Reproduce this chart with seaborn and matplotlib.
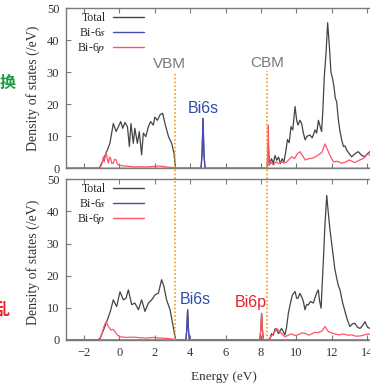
import matplotlib
matplotlib.use("Agg")
import matplotlib.pyplot as plt
import seaborn as sns
from matplotlib.lines import Line2D

# ---------------- data ----------------
X_TICKS = [-2, 0, 2, 4, 6, 8, 10, 12, 14]
Y_TICKS = [0, 10, 20, 30, 40, 50]
SERIES_LABELS = ["Total", "Bi-6$s$", "Bi-6$p$"]
VBM_E = 3.17
CBM_E = 8.35

# top panel - total DOS, valence band
TOP_VAL_E = [-3.0, -1.3, -1.13, -0.91, -0.71, -0.53, -0.34, -0.18, -0.05, 0.08,
             0.19, 0.32, 0.46, 0.57, 0.66, 0.79, 0.88, 1.02, 1.13, 1.26,
             1.36, 1.50, 1.64, 1.77, 1.92, 2.01, 2.15, 2.30, 2.45, 2.58,
             2.78, 2.96, 3.09, 3.18]
TOP_VAL_TOTAL = [0, 0, 0, 2.6, 5.2, 7.8, 14, 11.5, 13, 14.6,
                 12.5, 14.3, 13, 6.8, 14, 7.8, 12.5, 7.8, 11.5, 4.2,
                 11, 9.9, 13, 14.6, 13.5, 16, 15, 16.7, 17.2, 14,
                 9.9, 7.8, 4.7, 0]
# top panel - Bi-6s peak
TOP_S_E = [4.62, 4.68, 4.73, 4.78, 4.84]
TOP_S_V = [0, 5, 15.6, 5, 0]
# top panel - total DOS, conduction band
TOP_CON_E = [8.35, 8.42, 8.48, 8.6, 8.7, 8.8, 8.9, 9.0, 9.1, 9.2,
             9.3, 9.4, 9.5, 9.6, 9.7, 9.8, 9.93, 10.02, 10.1, 10.2,
             10.3, 10.4, 10.5, 10.6, 10.77, 10.9, 11.06, 11.15, 11.25, 11.35,
             11.43, 11.5, 11.58, 11.68, 11.77, 11.87, 11.96, 12.05, 12.13, 12.2,
             12.28, 12.38, 12.47, 12.56, 12.66, 12.75, 12.85, 13.0, 13.13, 13.3,
             13.5, 13.7, 13.88, 14.0, 14.16, 14.4, 14.7, 15.0]
TOP_CON_TOTAL = [0, 8, 1, 3, 1.5, 4, 2.5, 3.5, 1.5, 3,
                 2, 5, 9, 8, 13, 12, 19.3, 15, 13.5, 15,
                 14, 11, 8.9, 10, 10.4, 9.5, 12, 11, 15, 13,
                 11.5, 18, 28.6, 36, 45.5, 38, 30, 28, 25.5, 22,
                 20.8, 15, 11.5, 9, 6.8, 7, 5.7, 4.5, 3.6, 4.5,
                 5.2, 4, 3.6, 4.5, 5.2, 4, 4.5, 4]
# top panel - Bi-6p
TOP_RED_VAL_E = [-3.0, -1.2, -1.09, -0.95, -0.91, -0.85, -0.75, -0.68, -0.62, -0.55,
                 -0.49, -0.42, -0.34, -0.26, -0.18, -0.1, 0.0, 0.15, 0.32, 0.6,
                 0.9, 1.17, 1.5, 1.9, 2.3, 2.7, 3.05, 3.18]
TOP_RED_VAL = [0, 0, 0, 2, 3.6, 2, 5.2, 3, 1.6, 3.5,
               3.1, 1.5, 1.6, 2.8, 2.6, 1.2, 1, 0.8, 0.7, 0.6,
               0.4, 0.5, 0.4, 0.6, 0.7, 0.4, 0.2, 0]
TOP_RED_CON_E = [8.35, 8.40, 8.42, 8.45, 8.55, 8.7, 8.85, 9.0, 9.15, 9.35,
                 9.55, 9.74, 9.9, 10.05, 10.2, 10.35, 10.5, 10.7, 10.87, 11.05,
                 11.25, 11.45, 11.62, 11.81, 11.95, 12.1, 12.3, 12.56, 12.8, 13.0,
                 13.3, 13.55, 13.8, 14.07, 14.3, 14.6, 15.0]
TOP_RED_CON = [0, 6, 13.4, 1, 2, 1, 2, 1.5, 2, 1.6,
               2.5, 3.6, 3, 4.5, 5.2, 4, 2.6, 3, 3.1, 3.5,
               4.2, 5, 7.6, 5.2, 3.5, 2, 2.2, 1.6, 2, 2.6,
               1.8, 2.5, 3.1, 4.7, 3, 2.5, 2]

# bottom panel - total DOS, valence band
BOT_VAL_E = [-3.0, -1.25, -1.09, -0.9, -0.71, -0.5, -0.34, -0.15, 0.04, 0.23,
             0.38, 0.51, 0.70, 0.88, 1.08, 1.26, 1.45, 1.64, 1.83, 2.01,
             2.21, 2.39, 2.52, 2.67, 2.87, 3.05, 3.18]
BOT_VAL_TOTAL = [0, 0, 0.5, 3, 5.7, 9, 12.5, 10.4, 15, 12.5,
                 13, 15.6, 11, 11.5, 9.4, 12.5, 8.9, 11.5, 12.5, 14,
                 14.6, 18.75, 16.7, 12.5, 9.4, 4, 0]
# bottom panel - Bi-6s and Bi-6p gap states
BOT_S_E = [3.76, 3.81, 3.86, 3.91, 3.96]
BOT_S_V = [0, 3, 9.4, 3, 0]
BOT_P_E = [7.94, 7.99, 8.04, 8.09, 8.14]
BOT_P_V = [0, 3, 8.3, 3, 0]
# bottom panel - total DOS, conduction band
BOT_CON_E = [8.42, 8.51, 8.6, 8.7, 8.8, 8.89, 9.0, 9.1, 9.17, 9.27,
             9.36, 9.45, 9.55, 9.65, 9.78, 9.93, 10.02, 10.1, 10.2, 10.3,
             10.4, 10.49, 10.58, 10.68, 10.8, 10.96, 11.05, 11.15, 11.24, 11.32,
             11.4, 11.53, 11.62, 11.72, 11.8, 11.9, 12.0, 12.09, 12.18, 12.28,
             12.37, 12.47, 12.6, 12.75, 12.9, 13.03, 13.17, 13.31, 13.45, 13.6,
             13.75, 13.88, 14.02, 14.16, 14.4, 14.7, 15.0]
BOT_CON_TOTAL = [0, 0.5, 2, 1.5, 3.5, 3.1, 2, 3, 3.6, 2.5,
                 1.6, 4, 8.3, 11, 14, 15.1, 13, 13, 14.5, 13.5,
                 12, 9.4, 11, 10.9, 12, 11.5, 13, 14.6, 15.6, 12,
                 9.9, 25, 36, 45, 40, 34.4, 30, 26, 22, 19.3,
                 17, 15.6, 12, 8.9, 6, 4.2, 5, 5.2, 4, 3.6,
                 4.5, 5.7, 4, 3.6, 4.5, 4, 4]
# bottom panel - Bi-6p
BOT_RED_VAL_E = [-3.0, -1.2, -1.09, -0.95, -0.87, -0.75, -0.62, -0.47, -0.35, -0.24,
                 -0.1, 0.04, 0.42, 0.8, 1.17, 1.55, 1.92, 2.3, 2.67, 3.0,
                 3.15]
BOT_RED_VAL = [0, 0, 0.2, 2.5, 4.2, 5.7, 4.2, 3.1, 3.3, 2.6,
               1.5, 1, 0.8, 0.9, 0.7, 0.6, 0.8, 0.6, 0.5, 0.3,
               0]
BOT_RED_CON_E = [8.42, 8.56, 8.7, 8.89, 9.08, 9.2, 9.36, 9.55, 9.74, 9.9,
                 10.1, 10.3, 10.49, 10.7, 10.87, 11.05, 11.24, 11.45, 11.62, 11.81,
                 12.0, 12.18, 12.4, 12.66, 12.9, 13.13, 13.35, 13.6, 13.85, 14.07,
                 14.4, 15.0]
BOT_RED_CON = [0, 1, 2, 3.6, 2.6, 1.8, 1, 1.5, 1.9, 1.4,
               1.6, 2.2, 2.1, 1.5, 1.9, 2.4, 2.3, 2.8, 4.2, 2.6,
               2.2, 1.9, 1.6, 1.9, 1.5, 1.6, 1.2, 1.25, 1.6, 1.9,
               1.5, 1.5]

# ---------------- style ----------------
sns.set_style("ticks")
plt.rcParams["font.family"] = ["Liberation Serif", "DejaVu Serif"]
plt.rcParams["mathtext.fontset"] = "stix"
plt.rcParams["xtick.direction"] = "in"
plt.rcParams["ytick.direction"] = "in"

C_TOTAL = "#444444"
C_S = "#4a4ab4"
C_P = "#ff5468"
C_LINE = "#f39a1e"
C_FRAME = "#7a7a7a"

W, H = 370, 384
fig = plt.figure(figsize=(W / 100, H / 100), dpi=100)


def rect(left, top, right, bottom):
    return [left / W, 1 - bottom / H, (right - left) / W, (bottom - top) / H]


ax_top = fig.add_axes(rect(66.2, 8.3, 384.8, 168.3))
ax_bot = fig.add_axes(rect(66.2, 179.3, 384.8, 340.0))

panels = [
    (ax_top,
     TOP_VAL_E + TOP_S_E + TOP_CON_E, TOP_VAL_TOTAL + TOP_S_V + TOP_CON_TOTAL,
     [-3.0] + TOP_S_E + [15.0], [0] + TOP_S_V + [0],
     TOP_RED_VAL_E + TOP_RED_CON_E, TOP_RED_VAL + TOP_RED_CON),
    (ax_bot,
     BOT_VAL_E + BOT_S_E + BOT_P_E + BOT_CON_E,
     BOT_VAL_TOTAL + BOT_S_V + BOT_P_V + BOT_CON_TOTAL,
     [-3.0] + BOT_S_E + [15.0], [0] + BOT_S_V + [0],
     BOT_RED_VAL_E + BOT_P_E + BOT_RED_CON_E, BOT_RED_VAL + BOT_P_V + BOT_RED_CON),
]

for ax, te, tv, se, sv, pe, pv in panels:
    sns.lineplot(x=te, y=tv, ax=ax, color=C_TOTAL, lw=0.9, estimator=None, sort=False)
    sns.lineplot(x=se, y=sv, ax=ax, color=C_S, lw=0.9, estimator=None, sort=False)
    sns.lineplot(x=pe, y=pv, ax=ax, color=C_P, lw=0.9, estimator=None, sort=False)
    ax.set_xlim(-3, 15)
    ax.set_ylim(0, 50)
    ax.set_xticks(X_TICKS)
    ax.set_yticks(Y_TICKS)
    ax.tick_params(axis="both", which="both", direction="in", length=3.5, width=0.8,
                   color=C_FRAME, labelsize=9, labelcolor="#333333",
                   top=True, right=True)
    ax.tick_params(axis="y", pad=5)
    ax.tick_params(axis="x", pad=5)
    for sp in ax.spines.values():
        sp.set_color(C_FRAME)
        sp.set_linewidth(1.0)
    ax.set_xlabel("")
    ax.set_ylabel("")
    handles = [Line2D([0], [0], color=c, lw=1.0) for c in (C_TOTAL, C_S, C_P)]
    ax.legend(handles, SERIES_LABELS, loc="upper left", bbox_to_anchor=(0.035, 0.975),
              frameon=False, markerfirst=False, handlelength=2.6, handletextpad=0.6,
              labelspacing=0.2, borderpad=0, borderaxespad=0, fontsize=8.5)

ax_top.tick_params(axis="x", labelbottom=False)

# VBM / CBM guide lines
for e, top_frac in ((VBM_E, 0.604), (CBM_E, 0.61)):
    ax_top.axvline(e, ymin=-0.069, ymax=top_frac, color=C_LINE, lw=1.2,
                   ls=(0, (1, 1.3)), clip_on=False)
    ax_bot.axvline(e, ymin=0.0, ymax=1.0, color=C_LINE, lw=1.2,
                   ls=(0, (1, 1.3)), clip_on=False)

sans = ["Liberation Sans", "DejaVu Sans"]
ax_top.text(2.86, 31.3, "VBM", color="#7a7a7a", fontsize=11, family=sans,
            ha="center", va="baseline")
ax_top.text(8.34, 31.7, "CBM", color="#7a7a7a", fontsize=11, family=sans,
            ha="center", va="baseline")
ax_top.text(4.76, 17.3, "Bi6s", color="#2f4fa8", fontsize=11.5, family=sans,
            ha="center", va="baseline")
ax_bot.text(4.28, 11.2, "Bi6s", color="#2f4fa8", fontsize=11.5, family=sans,
            ha="center", va="baseline")
ax_bot.text(7.44, 10.3, "Bi6p", color="#e8202c", fontsize=11.5, family=sans,
            ha="center", va="baseline")

# axis titles
fig.text(33 / W, 1 - 88 / H, "Density of states (/eV)", rotation=90,
         ha="center", va="center", fontsize=10, color="#333333")
fig.text(33 / W, 1 - 262 / H, "Density of states (/eV)", rotation=90,
         ha="center", va="center", fontsize=10, color="#333333")
fig.text(224 / W, 1 - 377 / H, "Energy (eV)", ha="center", va="center",
         fontsize=9.5, color="#333333")

# side labels (partly outside the canvas, as in the reference)
cjk = ["Noto Sans CJK SC", "DejaVu Sans"]
fig.text(8 / W, 1 - 83 / H, "换", color="#1a9a40", fontsize=11.5,
         fontweight="bold", family=cjk, ha="center", va="center")
fig.text(10 / W, 1 - 310 / H, "乱", color="#e8202c", fontsize=11.5,
         fontweight="bold", family=cjk, ha="right", va="center")

fig.savefig("out.png", dpi=100)
